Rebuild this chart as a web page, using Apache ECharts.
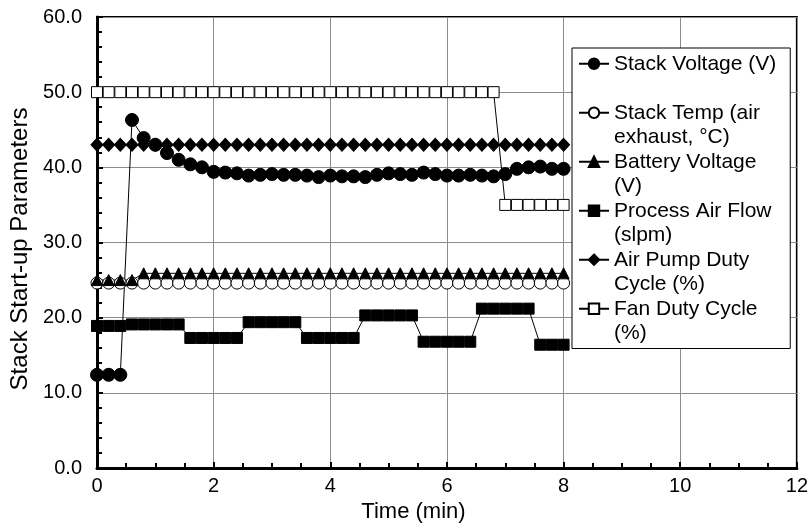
<!DOCTYPE html>
<html>
<head>
<meta charset="utf-8">
<script src="https://cdn.jsdelivr.net/npm/echarts@6/dist/echarts.min.js"></script>
<style>
  html, body { margin: 0; padding: 0; background: #fff; }
  #chart { width: 811px; height: 530px; }
</style>
</head>
<body>
<div id="chart"></div>
<script>
// time in minutes, one reading every 0.2 min
var times = [0, 0.2, 0.4, 0.6, 0.8, 1.0, 1.2, 1.4, 1.6, 1.8, 2.0, 2.2, 2.4, 2.6, 2.8, 3.0, 3.2, 3.4, 3.6, 3.8,
  4.0, 4.2, 4.4, 4.6, 4.8, 5.0, 5.2, 5.4, 5.6, 5.8, 6.0, 6.2, 6.4, 6.6, 6.8, 7.0, 7.2, 7.4, 7.6, 7.8, 8.0];

var stackVoltage = [12.4, 12.4, 12.4, 46.3, 43.9, 43.0, 41.9, 41.0, 40.4, 40.0, 39.4, 39.3, 39.2, 38.9, 39.0,
  39.1, 39.0, 39.0, 38.9, 38.7, 38.9, 38.8, 38.8, 38.7, 39.0, 39.2, 39.1, 39.0, 39.3, 39.1, 38.9, 38.9, 39.0,
  38.9, 38.8, 39.1, 39.8, 40.0, 40.1, 39.8, 39.8];

var stackTemp = [24.6, 24.6, 24.6, 24.6, 24.6, 24.6, 24.6, 24.6, 24.6, 24.6, 24.6, 24.6, 24.6, 24.6, 24.6,
  24.6, 24.6, 24.6, 24.6, 24.6, 24.6, 24.6, 24.6, 24.6, 24.6, 24.6, 24.6, 24.6, 24.6, 24.6, 24.6, 24.6, 24.6,
  24.6, 24.6, 24.6, 24.6, 24.6, 24.6, 24.6, 24.6];

var batteryVoltage = [25.0, 25.0, 25.0, 25.0, 25.9, 25.9, 25.9, 25.9, 25.9, 25.9, 25.9, 25.9, 25.9, 25.9, 25.9,
  25.9, 25.9, 25.9, 25.9, 25.9, 25.9, 25.9, 25.9, 25.9, 25.9, 25.9, 25.9, 25.9, 25.9, 25.9, 25.9, 25.9, 25.9,
  25.9, 25.9, 25.9, 25.9, 25.9, 25.9, 25.9, 25.9];

var airFlow = [18.9, 18.9, 18.9, 19.1, 19.1, 19.1, 19.1, 19.1, 17.3, 17.3, 17.3, 17.3, 17.3, 19.4, 19.4,
  19.4, 19.4, 19.4, 17.3, 17.3, 17.3, 17.3, 17.3, 20.3, 20.3, 20.3, 20.3, 20.3, 16.8, 16.8, 16.8, 16.8, 16.8,
  21.2, 21.2, 21.2, 21.2, 21.2, 16.4, 16.4, 16.4];

var airPumpDuty = [43.0, 43.0, 43.0, 43.0, 43.0, 43.0, 43.0, 43.0, 43.0, 43.0, 43.0, 43.0, 43.0, 43.0, 43.0,
  43.0, 43.0, 43.0, 43.0, 43.0, 43.0, 43.0, 43.0, 43.0, 43.0, 43.0, 43.0, 43.0, 43.0, 43.0, 43.0, 43.0, 43.0,
  43.0, 43.0, 43.0, 43.0, 43.0, 43.0, 43.0, 43.0];

var fanDuty = [50.0, 50.0, 50.0, 50.0, 50.0, 50.0, 50.0, 50.0, 50.0, 50.0, 50.0, 50.0, 50.0, 50.0, 50.0,
  50.0, 50.0, 50.0, 50.0, 50.0, 50.0, 50.0, 50.0, 50.0, 50.0, 50.0, 50.0, 50.0, 50.0, 50.0, 50.0, 50.0, 50.0,
  50.0, 50.0, 35.0, 35.0, 35.0, 35.0, 35.0, 35.0];

var seriesNames = ['Stack Voltage (V)', 'Stack Temp (air exhaust, °C)', 'Battery Voltage (V)',
  'Process Air Flow (slpm)', 'Air Pump Duty Cycle (%)', 'Fan Duty Cycle (%)'];

// legend text as wrapped in the original (blank first line keeps the icon on the first text line)
var legendText = {
  'Stack Voltage (V)': ' \nStack Voltage (V)\n ',
  'Stack Temp (air exhaust, °C)': ' \nStack Temp (air\nexhaust, °C)',
  'Battery Voltage (V)': ' \nBattery Voltage\n(V)',
  'Process Air Flow (slpm)': ' \nProcess Air Flow\n(slpm)',
  'Air Pump Duty Cycle (%)': ' \nAir Pump Duty\nCycle (%)',
  'Fan Duty Cycle (%)': ' \nFan Duty Cycle\n(%)'
};

var font = "'Liberation Sans', Arial, Helvetica, sans-serif";

function pairs(vals) {
  return times.map(function (t, i) { return [t, vals[i]]; });
}

function makeSeries(name, vals, symbol, size, filled) {
  return {
    name: name,
    type: 'line',
    data: pairs(vals),
    symbol: symbol,
    symbolSize: size,
    showAllSymbol: true,
    animation: false,
    lineStyle: { color: '#000', width: 1 },
    itemStyle: {
      color: filled ? '#000' : '#fff',
      borderColor: '#000',
      borderWidth: 1
    },
    emphasis: { disabled: true }
  };
}

var chart = echarts.init(document.getElementById('chart'));
chart.setOption({
  backgroundColor: '#fff',
  animation: false,
  textStyle: { fontFamily: font },
  grid: {
    left: 97,
    right: 14,
    top: 17,
    bottom: 62,
    show: true,
    borderColor: '#000',
    borderWidth: 2
  },
  legend: {
    orient: 'vertical',
    left: 572,
    top: 48,
    padding: [-21, 14, 3, 6],
    itemGap: -24.5,
    itemWidth: 30,
    itemHeight: 13,
    selectedMode: false,
    backgroundColor: '#fff',
    borderColor: '#000',
    borderWidth: 1,
    data: seriesNames,
    formatter: function (name) { return legendText[name]; },
    textStyle: { color: '#000', fontSize: 21, lineHeight: 24.5, fontFamily: font }
  },
  xAxis: {
    type: 'value',
    min: 0,
    max: 12,
    interval: 2,
    name: 'Time (min)',
    nameLocation: 'middle',
    nameGap: 31,
    nameTextStyle: { color: '#000', fontSize: 22, fontFamily: font, padding: [0, 67, 0, 0] },
    axisLine: { lineStyle: { color: '#000', width: 3 } },
    axisTick: { inside: true, length: 6, lineStyle: { color: '#000', width: 2 } },
    minorTick: { show: true, splitNumber: 4, length: 5, lineStyle: { color: '#000', width: 2 } },
    axisLabel: { color: '#000', fontSize: 20, margin: 8, fontFamily: font },
    splitLine: { show: true, lineStyle: { color: '#8c8c8c', width: 1 } }
  },
  yAxis: {
    type: 'value',
    min: 0,
    max: 60,
    interval: 10,
    name: 'Stack Start-up Parameters',
    nameLocation: 'middle',
    nameGap: 57,
    nameTextStyle: { color: '#000', fontSize: 24, fontFamily: font, padding: [0, 13, 0, 0] },
    axisLine: { lineStyle: { color: '#000', width: 3 } },
    axisTick: { inside: true, length: 6, lineStyle: { color: '#000', width: 2 } },
    minorTick: { show: true, splitNumber: 5, length: 5, lineStyle: { color: '#000', width: 2 } },
    axisLabel: {
      color: '#000', fontSize: 20, margin: 15, fontFamily: font,
      formatter: function (v) { return v.toFixed(1); }
    },
    splitLine: { show: true, lineStyle: { color: '#8c8c8c', width: 1 } }
  },
  series: [
    makeSeries(seriesNames[0], stackVoltage, 'circle', 13, true),
    makeSeries(seriesNames[1], stackTemp, 'circle', 12, false),
    makeSeries(seriesNames[2], batteryVoltage, 'triangle', 11, true),
    makeSeries(seriesNames[3], airFlow, 'rect', 11, true),
    makeSeries(seriesNames[4], airPumpDuty, 'diamond', [12, 13], true),
    makeSeries(seriesNames[5], fanDuty, 'rect', 11, false)
  ]
});
</script>
</body>
</html>
